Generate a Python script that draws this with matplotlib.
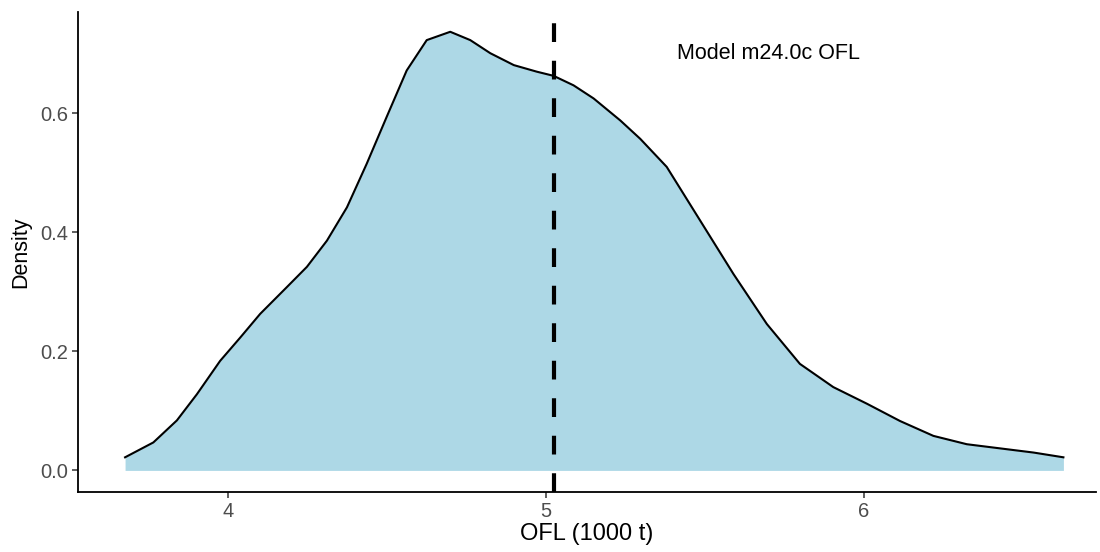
import numpy as np
import matplotlib
matplotlib.use("Agg")
import matplotlib.pyplot as plt

# density curve of OFL
ofl = [3.675, 3.764, 3.838, 3.901, 3.974, 4.037, 4.100, 4.184, 4.247, 4.310,
       4.373, 4.435, 4.498, 4.561, 4.624, 4.698, 4.761, 4.824, 4.898, 4.970,
       5.023, 5.086, 5.149, 5.233, 5.296, 5.379, 5.484, 5.589, 5.694, 5.798,
       5.903, 6.009, 6.113, 6.218, 6.323, 6.428, 6.533, 6.627]
density = [0.022, 0.047, 0.084, 0.128, 0.184, 0.223, 0.263, 0.308, 0.342, 0.386,
           0.442, 0.515, 0.594, 0.672, 0.723, 0.737, 0.723, 0.701, 0.681, 0.670,
           0.663, 0.647, 0.625, 0.588, 0.557, 0.510, 0.420, 0.330, 0.246, 0.179,
           0.140, 0.112, 0.083, 0.058, 0.044, 0.037, 0.030, 0.022]
ofl_line = 5.023
label = "Model m24.0c OFL"
x_ticks = [4, 5, 6]
y_ticks = [0.0, 0.2, 0.4, 0.6]

plt.rcParams['font.family'] = ['Liberation Sans', 'DejaVu Sans']

fig = plt.figure(figsize=(11, 5.52), dpi=100)
ax = fig.add_axes([0.0705, 0.109, 0.926, 0.869])

ax.fill_between(ofl, 0, density, color="#ADD8E6", lw=0)
ax.plot(ofl, density, color="black", lw=1.5, solid_joinstyle="round")
ax.axvline(ofl_line, color="black", lw=3, linestyle=(0, (4.5, 4.5)))
ax.text(5.7, 0.70, label, ha="center", va="center", fontsize=15.5, color="black")

ax.set_xlim(3.5255, 6.73)
ax.set_ylim(-0.036, 0.770)
ax.set_xticks(x_ticks)
ax.set_xticklabels([str(t) for t in x_ticks])
ax.set_yticks(y_ticks)
ax.set_yticklabels(["%.1f" % t for t in y_ticks])

for s in ["top", "right"]:
    ax.spines[s].set_visible(False)
for s in ["left", "bottom"]:
    ax.spines[s].set_linewidth(1.3)
    ax.spines[s].set_color("black")

ax.tick_params(axis="both", length=4, width=1.1, color="#333333",
               labelcolor="#4D4D4D", labelsize=14.5, pad=3)

ax.set_xlabel("OFL (1000 t)", fontsize=17, labelpad=2)
ax.set_ylabel("Density", fontsize=15.5, labelpad=6)

fig.savefig("out.png", dpi=100)
